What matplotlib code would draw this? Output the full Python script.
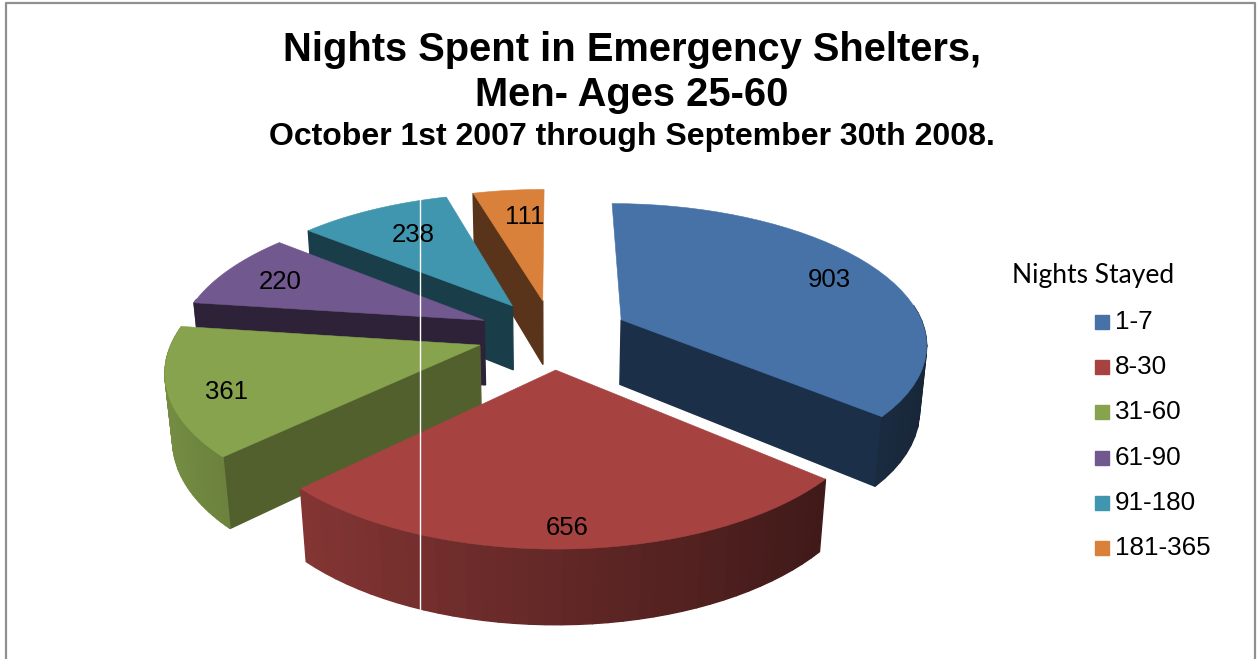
import numpy as np
import matplotlib
matplotlib.use("Agg")
import matplotlib.pyplot as plt
from matplotlib.colors import to_rgb
from matplotlib.patches import Rectangle

# Data
categories = ["1-7", "8-30", "31-60", "61-90", "91-180", "181-365"]
nights = [903, 656, 361, 220, 238, 111]

# Style
colors = ["#4672a8", "#a64341", "#87a34d", "#71588f", "#4096ae", "#d9813a"]
face_colors = ["#1b2f49", "#431a18", "#52602e", "#2d2238", "#1a3d4a", "#59331a"]
label_radius = [0.80, 0.90, 0.83, 0.78, 0.71, 0.73]
label_turn = [2, 0, -4, -1, 1, 2.5]  # degrees, clockwise

# Camera for the fake 3D pie, all in pixels of the figure
CX, CY = 553, 334
SCALE = 305
TILT = np.radians(27)
DIST = 5.7
EXPLODE = 0.25
HEIGHT = 0.245


def project(x, y, z=0.0):
    up = y * np.sin(TILT) + z * np.cos(TILT)
    depth = y * np.cos(TILT) - z * np.sin(TILT)
    f = DIST / (DIST + depth)
    return CX + SCALE * f * x, CY - SCALE * f * up, depth


def quad(p1, p2):
    # side wall between two plane points, from top face down
    pts = [project(p1[0], p1[1]), project(p2[0], p2[1]),
           project(p2[0], p2[1], -HEIGHT), project(p1[0], p1[1], -HEIGHT)]
    xy = [(p[0], p[1]) for p in pts]
    return xy, np.mean([p[2] for p in pts])


def rim_shade(color, nx):
    k = np.clip(0.60 - 0.28 * nx, 0, 1)
    return tuple(np.array(to_rgb(color)) * k)


fig = plt.figure(figsize=(12.58, 6.59), dpi=100)
ax = fig.add_axes([0, 0, 1, 1])
ax.set_xlim(0, 1258)
ax.set_ylim(659, 0)
ax.axis("off")

angles = np.cumsum([0] + nights) / sum(nights) * 2 * np.pi
mids = (angles[:-1] + angles[1:]) / 2

# back slices first
order = sorted(range(len(nights)), key=lambda i: -np.cos(mids[i]))
for i in order:
    ox, oy = EXPLODE * np.sin(mids[i]), EXPLODE * np.cos(mids[i])
    th = np.linspace(angles[i], angles[i + 1], 40)
    rx, ry = ox + np.sin(th), oy + np.cos(th)

    # only walls that look towards the viewer
    walls = []
    if np.sin(angles[i]) < -0.01:
        xy, d = quad((ox, oy), (rx[0], ry[0]))
        walls.append((d, xy, to_rgb(face_colors[i])))
    if np.sin(angles[i + 1]) > 0.01:
        xy, d = quad((ox, oy), (rx[-1], ry[-1]))
        walls.append((d, xy, to_rgb(face_colors[i])))
    for j in range(len(th) - 1):
        if np.cos(th[j]) < 0.15:
            xy, d = quad((rx[j], ry[j]), (rx[j + 1], ry[j + 1]))
            walls.append((d, xy, rim_shade(colors[i], np.sin(th[j]))))
    for d, xy, c in sorted(walls, key=lambda w: -w[0]):
        ax.fill(*zip(*xy), color=c, lw=1, zorder=2)

    tx, ty, _ = project(np.r_[ox, rx], np.r_[oy, ry])
    ax.fill(tx, ty, color=colors[i], lw=0.4, zorder=2)

    a = mids[i] + np.radians(label_turn[i])
    lx, ly, _ = project(ox + label_radius[i] * np.sin(a), oy + label_radius[i] * np.cos(a))
    ax.text(lx, ly, str(nights[i]), ha="center", va="center", fontsize=18.5,
            family="Liberation Sans", color="black", zorder=4)

# scan artefact crossing the pie
ax.plot([419.5, 419.5], [197, 610], color="white", lw=1, zorder=3)

# Titles
ax.text(632, 50, "Nights Spent in Emergency Shelters,", ha="center", va="center",
        fontsize=28.7, fontweight="bold", family="Liberation Sans")
ax.text(632, 95, "Men- Ages 25-60", ha="center", va="center",
        fontsize=28.7, fontweight="bold", family="Liberation Sans")
ax.text(632, 137, "October 1st 2007 through September 30th 2008.", ha="center", va="center",
        fontsize=23, fontweight="bold", family="Liberation Sans")

# Legend
ax.text(1012, 276, "Nights Stayed", ha="left", va="center", fontsize=19, family="Lato")
for i, cat in enumerate(categories):
    y = 322 + i * 45.2
    ax.add_patch(Rectangle((1095, y - 7), 14, 14, color=colors[i]))
    ax.text(1115, y, cat, ha="left", va="center", fontsize=18.7, family="Liberation Sans")

# Outer frame, runs off the bottom of the picture
ax.plot([6, 6, 1255, 1255], [662, 2.5, 2.5, 662], color="#8f8f8f", lw=1.6, zorder=5)

fig.savefig("out.png", dpi=100)
